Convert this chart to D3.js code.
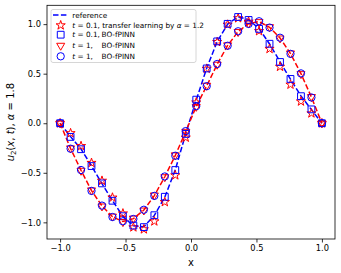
<!DOCTYPE html>
<html>
<head>
<meta charset="utf-8">
<script src="https://cdn.jsdelivr.net/npm/d3@7"></script>
<style>
  body { margin: 0; background: #fff; }
  svg { display: block; font-family: "DejaVu Sans", sans-serif; }
</style>
</head>
<body>
<div id="chart"></div>
<script>
// x grid shared by every series
const xs = [-1, -0.92, -0.84, -0.76, -0.68, -0.6, -0.52, -0.44, -0.36, -0.28, -0.2, -0.12, -0.04,
            0.04, 0.12, 0.2, 0.28, 0.36, 0.44, 0.52, 0.6, 0.68, 0.76, 0.84, 0.92, 1];

// reference curves (t = 0.1 blue, t = 1 red)
const refT01 = [0, -0.135, -0.26, -0.43, -0.61, -0.78, -0.94, -1.035, -1.045, -0.93, -0.745, -0.47, -0.105,
                0.235, 0.556, 0.824, 1.0, 1.075, 1.045, 0.955, 0.80, 0.62, 0.444, 0.276, 0.137, 0];
const refT1 = [0, -0.255, -0.475, -0.68, -0.834, -0.943, -0.992, -0.963, -0.876, -0.73, -0.54, -0.325, -0.082,
               0.17, 0.377, 0.595, 0.785, 0.925, 1.005, 1.026, 0.968, 0.86, 0.703, 0.50, 0.263, 0];

// predictions
const tlT01 = [0, -0.10, -0.23, -0.40, -0.58, -0.75, -0.91, -1.05, -1.07, -0.99, -0.795, -0.525, -0.145,
               0.21, 0.55, 0.82, 0.995, 1.06, 1.025, 0.93, 0.75, 0.57, 0.39, 0.22, 0.10, 0];
const boT01 = [0, -0.138, -0.262, -0.432, -0.607, -0.782, -0.938, -1.032, -1.048, -0.928, -0.742, -0.472, -0.108,
               0.238, 0.553, 0.826, 1.003, 1.072, 1.042, 0.952, 0.802, 0.618, 0.447, 0.273, 0.14, 0];
const triT1 = [0, -0.252, -0.478, -0.676, -0.838, -0.94, -0.996, -0.96, -0.879, -0.727, -0.543, -0.322, -0.085,
               0.167, 0.38, 0.592, 0.788, 0.922, 1.008, 1.022, 0.971, 0.857, 0.706, 0.497, 0.266, 0];
const boT1 = [0, -0.257, -0.472, -0.683, -0.831, -0.946, -0.989, -0.966, -0.873, -0.733, -0.537, -0.328, -0.079,
              0.173, 0.374, 0.598, 0.782, 0.928, 1.002, 1.029, 0.965, 0.863, 0.7, 0.503, 0.26, 0];

const xTicks = [-1.0, -0.5, 0.0, 0.5, 1.0];
const yTicks = [-1.0, -0.5, 0.0, 0.5, 1.0];

const W = 341, H = 273;
const margin = { top: 5.3, right: 6, bottom: 34, left: 47 };

const svg = d3.select("#chart").append("svg")
    .attr("width", W).attr("height", H);

const x = d3.scaleLinear().domain([-1.1, 1.1]).range([margin.left, W - margin.right]);
const y = d3.scaleLinear().domain([-1.168, 1.19]).range([H - margin.bottom, margin.top]);

const fmt = d => d3.format(".1f")(d).replace("-", "\u2212");

// axes
const xAxis = svg.append("g")
    .attr("transform", `translate(0,${H - margin.bottom})`)
    .call(d3.axisBottom(x).tickValues(xTicks).tickFormat(fmt).tickSize(3.5).tickPadding(2.5).tickSizeOuter(0));
const yAxis = svg.append("g")
    .attr("transform", `translate(${margin.left},0)`)
    .call(d3.axisLeft(y).tickValues(yTicks).tickFormat(fmt).tickSize(3.5).tickPadding(2.5).tickSizeOuter(0));
[xAxis, yAxis].forEach(g => {
    g.select(".domain").remove();
    g.selectAll("line").attr("stroke", "#000").attr("stroke-width", 0.8);
    g.selectAll("text").style("font-size", "8.3px").attr("fill", "#000").style("font-family", "DejaVu Sans");
});

// frame
svg.append("rect")
    .attr("x", x.range()[0]).attr("y", y.range()[1])
    .attr("width", x.range()[1] - x.range()[0])
    .attr("height", y.range()[0] - y.range()[1])
    .attr("fill", "none").attr("stroke", "#000").attr("stroke-width", 0.8);

// reference lines
const line = vals => d3.line().x((d, i) => x(xs[i])).y(d => y(d))(vals);
svg.append("path").attr("d", line(refT01))
    .attr("fill", "none").attr("stroke", "#0000ff").attr("stroke-width", 1.5).attr("stroke-dasharray", "5.5,2.4");
svg.append("path").attr("d", line(refT1))
    .attr("fill", "none").attr("stroke", "#ff0000").attr("stroke-width", 1.5).attr("stroke-dasharray", "5.5,2.4");

// marker series
const series = [
    { vals: tlT01, type: d3.symbolStar, size: 26, color: "#ff0000", rot: 0 },
    { vals: boT01, type: d3.symbolSquare, size: 46, color: "#0000ff", rot: 0 },
    { vals: triT1, type: d3.symbolTriangle, size: 28, color: "#ff0000", rot: 180 },
    { vals: boT1, type: d3.symbolCircle, size: 42, color: "#0000ff", rot: 0 }
];

series.forEach(s => {
    const sym = d3.symbol().type(s.type).size(s.size);
    svg.append("g").selectAll("path")
        .data(s.vals)
        .enter().append("path")
        .attr("d", sym)
        .attr("transform", (d, i) => `translate(${x(xs[i])},${y(d)}) rotate(${s.rot})`)
        .attr("fill", "none")
        .attr("stroke", s.color)
        .attr("stroke-width", 1);
});

// legend
const legend = svg.append("g");
legend.append("rect")
    .attr("x", 51).attr("y", 9.5).attr("width", 145).attr("height", 53).attr("rx", 2)
    .attr("fill", "#fff").attr("fill-opacity", 0.8)
    .attr("stroke", "#cccccc").attr("stroke-width", 0.8);

const rowY = [15, 25.3, 34.7, 45.6, 56.3];
legend.append("line")
    .attr("x1", 53).attr("x2", 68).attr("y1", rowY[0]).attr("y2", rowY[0])
    .attr("stroke", "#0000ff").attr("stroke-width", 1.5).attr("stroke-dasharray", "5.5,2.4");
series.forEach((s, k) => {
    legend.append("path")
        .attr("d", d3.symbol().type(s.type).size(s.size))
        .attr("transform", `translate(60.7,${rowY[k + 1]}) rotate(${s.rot})`)
        .attr("fill", "none").attr("stroke", s.color).attr("stroke-width", 1);
});

const lfs = "7.3px";
const addText = (row, parts) => {
    const t = legend.append("text")
        .attr("x", 72.3).attr("y", rowY[row]).attr("dy", "0.35em")
        .style("font-size", lfs).attr("fill", "#000");
    parts.forEach(p => {
        const ts = t.append("tspan").text(p.s);
        if (p.i) ts.style("font-style", "italic");
        if (p.x !== undefined) ts.attr("x", p.x);
    });
};
addText(0, [{ s: "reference" }]);
addText(1, [{ s: "t", i: 1 }, { s: " = 0.1, transfer learning by " }, { s: "α", i: 1 }, { s: " = 1.2" }]);
addText(2, [{ s: "t", i: 1 }, { s: " = 0.1, " }, { s: "BO-fPINN", x: 101.5 }]);
addText(3, [{ s: "t", i: 1 }, { s: " = 1, " }, { s: "BO-fPINN", x: 101.5 }]);
addText(4, [{ s: "t", i: 1 }, { s: " = 1, " }, { s: "BO-fPINN", x: 101.5 }]);

// axis labels
svg.append("text")
    .attr("x", (x.range()[0] + x.range()[1]) / 2).attr("y", 262).attr("dy", "0.35em")
    .attr("text-anchor", "middle").style("font-size", "10px").text("x");

const yl = svg.append("text")
    .attr("transform", `translate(13.5,${(y.range()[0] + y.range()[1]) / 2}) rotate(-90)`)
    .attr("text-anchor", "middle").style("font-size", "10px");
yl.append("tspan").text("u").style("font-style", "italic");
yl.append("tspan").text("2").style("font-size", "7px").attr("dy", "2.5");
yl.append("tspan").text("(").attr("dy", "-2.5");
yl.append("tspan").text("x").style("font-style", "italic");
yl.append("tspan").text(", ");
yl.append("tspan").text("t").style("font-style", "italic");
yl.append("tspan").text("), ");
yl.append("tspan").text("α").style("font-style", "italic");
yl.append("tspan").text(" = 1.8");
</script>
</body>
</html>
